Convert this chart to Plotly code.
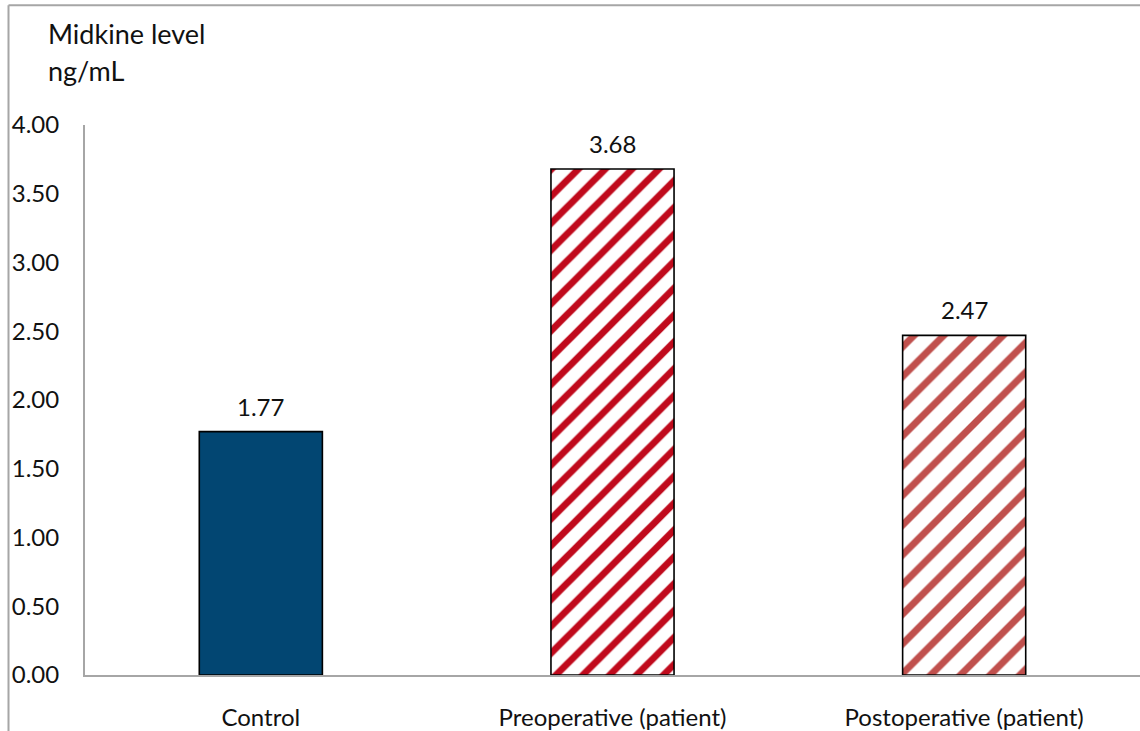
import plotly.graph_objects as go

categories = ["Control", "Preoperative (patient)", "Postoperative (patient)"]
values = [1.77, 3.68, 2.47]
labels = ["1.77", "3.68", "2.47"]
tick_vals = [0, 0.5, 1, 1.5, 2, 2.5, 3, 3.5, 4]
tick_text = ["0.00", "0.50", "1.00", "1.50", "2.00", "2.50", "3.00", "3.50", "4.00"]

# per-bar styles
fill_colors = ["#024672", "white", "white"]
pattern_shapes = ["", "/", "/"]
pattern_colors = ["#024672", "#C00A1C", "#C0504D"]
pattern_sizes = [10, 19, 21]
pattern_solidity = [1, 0.36, 0.33]

W, H = 1140, 731
L, R, T, B = 85, 0, 125, 52
pw, ph = W - L - R, H - T - B

def px(x):
    return (x - L) / pw

def py(y):
    return (H - B - y) / ph

FONT = "Lato"
TXT = "#111"

fig = go.Figure()
for i, (c, v) in enumerate(zip(categories, values)):
    fig.add_trace(go.Bar(
        x=[c],
        y=[v],
        width=0.35,
        marker=dict(
            color=fill_colors[i],
            line=dict(color="black", width=1.6),
            pattern=dict(
                shape=pattern_shapes[i],
                fgcolor=pattern_colors[i],
                bgcolor=fill_colors[i],
                size=pattern_sizes[i],
                solidity=pattern_solidity[i],
                fillmode="replace",
            ),
        ),
        showlegend=False,
        hoverinfo="skip",
    ))

annotations = []
for c, v, t in zip(categories, values, labels):
    annotations.append(dict(
        x=c, y=v, xref="x", yref="y", text=t, showarrow=False,
        yanchor="bottom", yshift=9, font=dict(family=FONT, size=24, color=TXT),
    ))
annotations.append(dict(
    x=px(46), y=py(33), xref="paper", yref="paper", text="Midkine level",
    showarrow=False, xanchor="left", yanchor="middle",
    font=dict(family=FONT, size=27, color=TXT),
))
annotations.append(dict(
    x=px(46), y=py(70), xref="paper", yref="paper", text="ng/mL",
    showarrow=False, xanchor="left", yanchor="middle",
    font=dict(family=FONT, size=27, color=TXT),
))

shapes = [
    dict(type="line", xref="paper", yref="paper", x0=px(8.5), x1=px(1145), y0=py(4.5), y1=py(4.5),
         line=dict(color="#A6A6A6", width=2)),
    dict(type="line", xref="paper", yref="paper", x0=px(8.5), x1=px(8.5), y0=py(4.5), y1=py(740),
         line=dict(color="#A6A6A6", width=2)),
]

fig.update_layout(
    width=W, height=H,
    margin=dict(l=L, r=R, t=T, b=B, pad=0),
    paper_bgcolor="white", plot_bgcolor="white",
    barmode="overlay",
    annotations=annotations,
    shapes=shapes,
    font=dict(family=FONT, size=24, color=TXT),
)
fig.update_xaxes(
    showline=True, linecolor="#A6A6A6", linewidth=2,
    showgrid=False, zeroline=False, ticks="",
    ticklabelstandoff=20,
    tickfont=dict(family=FONT, size=24, color=TXT),
)
fig.update_yaxes(
    range=[0, 4], tickvals=tick_vals, ticktext=tick_text,
    showline=True, linecolor="#A6A6A6", linewidth=2,
    showgrid=False, zeroline=False, ticks="",
    ticklabelstandoff=19,
    tickfont=dict(family=FONT, size=24, color=TXT),
)

fig.write_html("out.html")
